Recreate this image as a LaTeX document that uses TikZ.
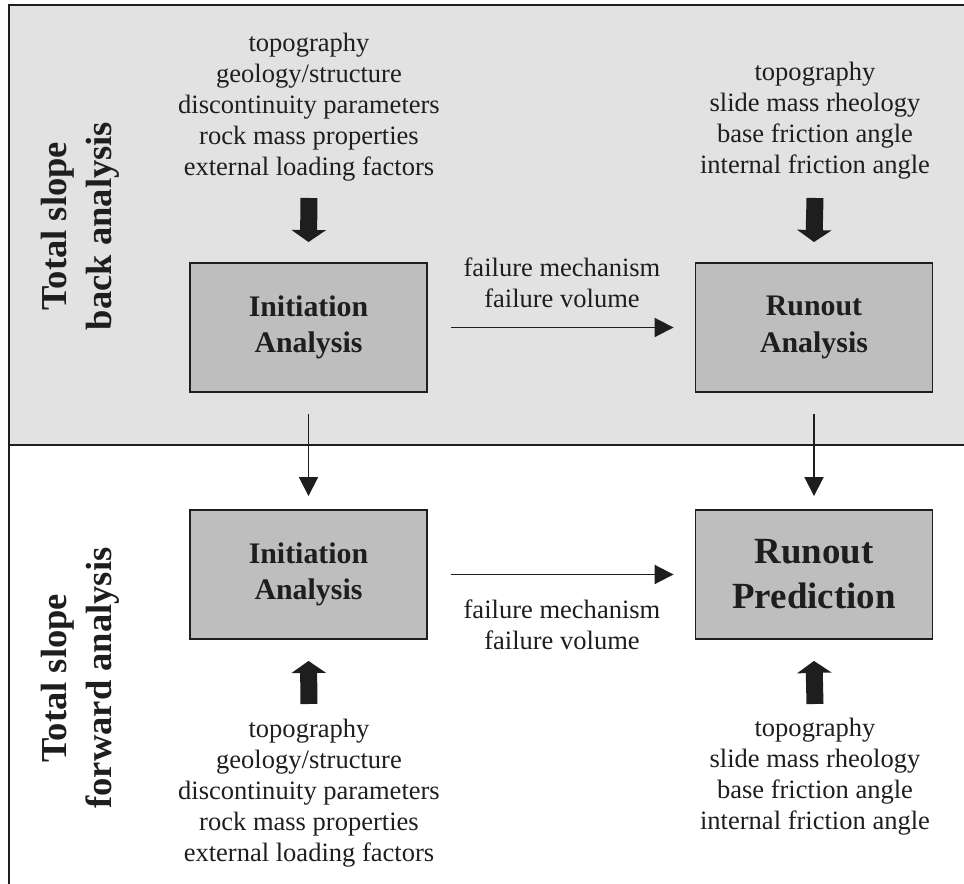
\documentclass[tikz,border=0pt]{standalone}
\usepackage{fontspec}
\setmainfont{Liberation Serif}
\usetikzlibrary{arrows.meta,calc}
\definecolor{panelgray}{HTML}{E2E2E2}
\definecolor{boxgray}{HTML}{BEBEBE}
\definecolor{ink}{HTML}{1E1E1E}

\begin{document}
\begin{tikzpicture}[x=0.02cm, y=-0.02cm,
  every node/.style={text=ink},
  box/.style={draw=ink, line width=1.1pt, fill=boxgray, minimum width=4.74cm, minimum height=2.58cm,
    align=center, font=\fontsize{17}{20.6}\selectfont\bfseries},
  inputs/.style={align=center, font=\fontsize{15.1}{17.6}\selectfont},
  side/.style={rotate=90, align=center, font=\fontsize{20.8}{25.5}\selectfont\bfseries},
  conn/.style={draw=ink, line width=1.1pt, -{Triangle[width=0.38cm,length=0.38cm]}},
  fatarrow/.style={draw=ink, line width=0.34cm, -{Triangle[width=0.68cm,length=0.24cm]}}]
  \useasboundingbox (0,0) rectangle (964,884);
  \fill[panelgray] (9,5) rectangle (980,445);
  \draw[ink, line width=1.1pt] (980,5) -- (9,5) -- (9,890);
  \draw[ink, line width=1.5pt] (9,445) -- (980,445);

  \node[side] (sideA) at (80,226) {Total slope\\back analysis};
  \node[side] (sideF) at (80,678) {Total slope\\forward analysis};

  \node[box] (initA) at (308.5,327.5) {Initiation\\Analysis};
  \node[box] (runA) at (814,327.5) {Runout\\Analysis};
  \node[box] (initF) at (308.5,574.5) {Initiation\\Analysis};
  \node[box, font=\fontsize{21}{25.5}\selectfont\bfseries] (runF) at (814,574.5) {Runout\\Prediction};

  \node[inputs] (inA) at (309,107) {topography\\geology/structure\\discontinuity parameters\\rock mass properties\\external loading factors};
  \node[inputs] (inRA) at (815,121) {topography\\slide mass rheology\\base friction angle\\internal friction angle};
  \node[inputs] (inF) at (309,793) {topography\\geology/structure\\discontinuity parameters\\rock mass properties\\external loading factors};
  \node[inputs] (inRF) at (815,777) {topography\\slide mass rheology\\base friction angle\\internal friction angle};

  \node[inputs] (failA) at (562,283) {failure mechanism\\failure volume};
  \node[inputs] (failF) at (562,625) {failure mechanism\\failure volume};

  \coordinate (fatA) at (309,198);
  \coordinate (fatRA) at (815,198);
  \coordinate (fatF) at (309,704);
  \coordinate (fatRF) at (815,704);
  \draw[fatarrow] (fatA) -- ($(initA.north)+(0,-20)$);
  \draw[fatarrow] (fatRA) -- ($(runA.north)+(0,-20)$);
  \draw[fatarrow] (fatF) -- ($(initF.south)+(0,21)$);
  \draw[fatarrow] (fatRF) -- ($(runF.south)+(0,21)$);

  \draw[conn] ($(initA.east)+(23,0)$) -- ($(runA.west)+(-21,0)$);
  \draw[conn] ($(initF.east)+(23,0)$) -- ($(runF.west)+(-21,0)$);
  \draw[conn, shorten >=0.26cm] ($(initA.south)+(0,21)$) -- (initF.north);
  \draw[conn, shorten >=0.26cm] ($(runA.south)+(0,21)$) -- (runF.north);
\end{tikzpicture}
\end{document}
